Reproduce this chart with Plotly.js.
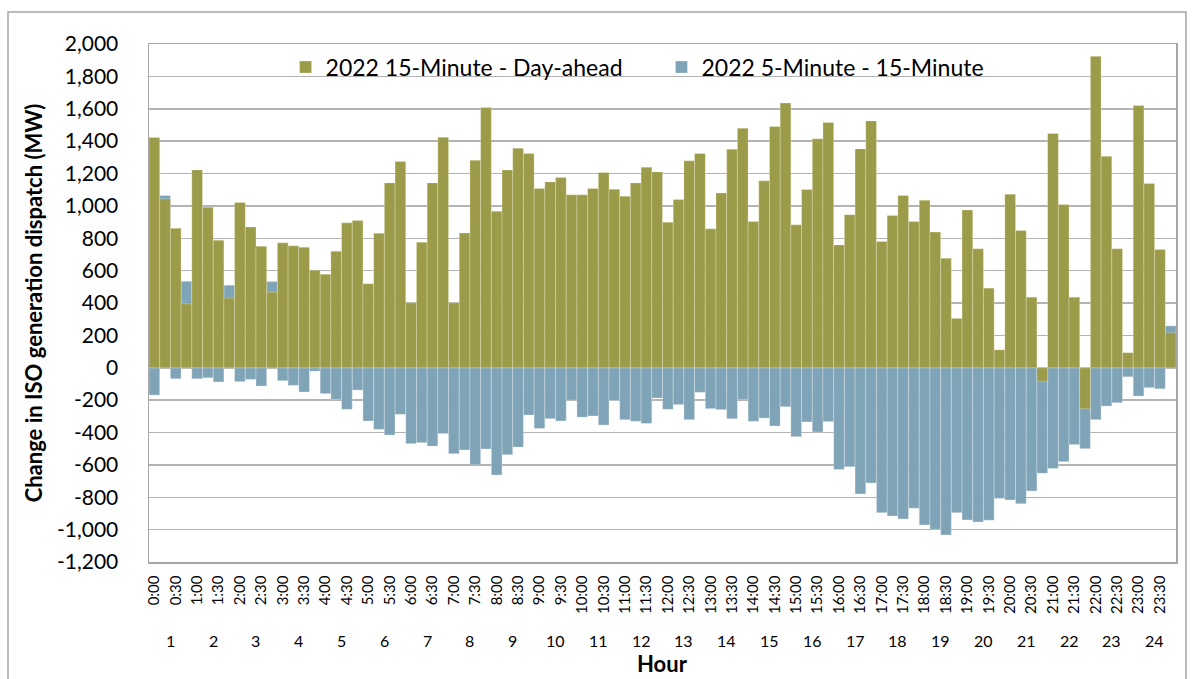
<!DOCTYPE html>
<html>
<head>
<meta charset="utf-8">
<script src="https://cdn.plot.ly/plotly-3.0.1.min.js"></script>
<style>
  html, body { margin: 0; padding: 0; background: #fff; }
  #chart { width: 1194px; height: 679px; }
</style>
</head>
<body>
<div id="chart"></div>
<script>
// 15-minute intervals, 0:00 .. 23:45
const intervalLabels = [];
for (let h = 0; h < 24; h++) {
  for (let m = 0; m < 60; m += 15) {
    intervalLabels.push(h + ":" + (m === 0 ? "00" : String(m)));
  }
}
const hourLabels = ["1","2","3","4","5","6","7","8","9","10","11","12",
                    "13","14","15","16","17","18","19","20","21","22","23","24"];

const yTickVals = [-1200, -1000, -800, -600, -400, -200, 0, 200, 400, 600, 800, 1000, 1200, 1400, 1600, 1800, 2000];
const yTickText = ["-1,200", "-1,000", "-800", "-600", "-400", "-200", "0", "200", "400", "600", "800",
                   "1,000", "1,200", "1,400", "1,600", "1,800", "2,000"];

const seriesNames = ["2022 15-Minute - Day-ahead", "2022 5-Minute - 15-Minute"];

// 2022 15-Minute - Day-ahead (MW)
const fmmMinusDa = [
  1422, 1043, 862, 395,   1222, 992, 788, 430,   1021, 870, 751, 467,
  772, 753, 745, 603,     578, 720, 895, 910,    519, 831, 1142, 1274,
  401, 776, 1142, 1424,   401, 833, 1282, 1607,  967, 1222, 1356, 1323,
  1107, 1148, 1175, 1068, 1068, 1107, 1206, 1103, 1060, 1142, 1239, 1210,
  899, 1039, 1278, 1323,  858, 1080, 1350, 1480, 903, 1155, 1490, 1636,
  883, 1101, 1414, 1515,  759, 945, 1352, 1525,  780, 941, 1064, 903,
  1035, 838, 677, 305,    975, 735, 492, 111,    1072, 848, 436, -84,
  1447, 1008, 436, -253,  1924, 1307, 735, 93,   1620, 1138, 731, 216
];

// 2022 5-Minute - 15-Minute (MW)
const rtdMinusFmm = [
  -169, 1064, -68, 535,   -68, -62, -88, 510,    -86, -72, -113, 533,
  -80, -109, -150, -21,   -160, -195, -257, -138, -329, -381, -416, -288,
  -469, -463, -484, -407, -531, -508, -599, -502, -663, -537, -490, -292,
  -375, -315, -329, -200, -305, -298, -354, -202, -321, -331, -344, -187,
  -257, -228, -321, -152, -253, -259, -315, -195, -331, -311, -360, -241,
  -426, -335, -397, -333, -628, -611, -780, -712, -895, -916, -934, -868,
  -971, -998, -1033, -895, -940, -953, -942, -807, -817, -840, -761, -652,
  -622, -580, -475, -500, -321, -237, -216, -56, -175, -123, -130, 259
];

const xIdx = intervalLabels.map((_, i) => i);
const tickVals = xIdx.filter(i => i % 2 === 0);
const tickText = tickVals.map(i => intervalLabels[i]);

const olive = "#9b9b4a";
const blue = "#80a4b7";
const gridC = "#b3b3b3";
const FONT = "Lato, 'Open Sans', sans-serif";

const traces = [
  {
    type: "bar", name: seriesNames[1], x: xIdx, y: rtdMinusFmm,
    text: intervalLabels, textposition: "none",
    hovertemplate: "%{text}: %{y:,}<extra></extra>",
    marker: { color: blue, line: { color: "rgba(255,255,255,0.45)", width: 0.6 } },
    legend: "legend2"
  },
  {
    type: "bar", name: seriesNames[0], x: xIdx, y: fmmMinusDa,
    text: intervalLabels, textposition: "none",
    hovertemplate: "%{text}: %{y:,}<extra></extra>",
    marker: { color: olive, line: { color: "rgba(255,255,230,0.45)", width: 0.6 } },
    legend: "legend"
  }
];

const annotations = hourLabels.map((h, k) => ({
  x: k * 4 + 1.5, y: -0.152, xref: "x", yref: "paper",
  text: h, showarrow: false, xanchor: "center", yanchor: "middle",
  font: { family: FONT, size: 16, color: "#000" }
}));
annotations.push({
  x: 0.5, y: -0.196, xref: "paper", yref: "paper",
  text: "<b>Hour</b>", showarrow: false, xanchor: "center", yanchor: "middle",
  font: { family: FONT, size: 22, color: "#000" }
});

const layout = {
  width: 1194, height: 679,
  paper_bgcolor: "#fff", plot_bgcolor: "#fff",
  margin: { l: 149, r: 18, t: 44, b: 117 },
  barmode: "overlay", bargap: 0,
  font: { family: FONT, color: "#000" },
  showlegend: true,
  legend: {
    x: 0.133, y: 0.997, xanchor: "left", yanchor: "top",
    orientation: "h", bgcolor: "rgba(255,255,255,0)",
    font: { family: FONT, size: 23, color: "#000" }
  },
  legend2: {
    x: 0.499, y: 0.997, xanchor: "left", yanchor: "top",
    orientation: "h", bgcolor: "rgba(255,255,255,0)",
    font: { family: FONT, size: 23, color: "#000" }
  },
  xaxis: {
    range: [-0.5, 95.5], tickmode: "array", tickvals: tickVals, ticktext: tickText,
    tickangle: -90, tickfont: { family: FONT, size: 15, color: "#000" },
    showgrid: false, zeroline: false, ticks: "", ticklabelstandoff: 6,
    showline: true, mirror: true, linecolor: "#a6a6a6", linewidth: 1.5,
    automargin: false
  },
  yaxis: {
    range: [-1200, 2000], tickmode: "array", tickvals: yTickVals, ticktext: yTickText,
    tickfont: { family: FONT, size: 21, color: "#000" },
    showgrid: true, gridcolor: gridC, gridwidth: 1.5,
    zeroline: false, ticks: "", ticklabelstandoff: 25,
    showline: true, mirror: true, linecolor: "#a6a6a6", linewidth: 1.5,
    title: { text: "<b>Change in ISO generation dispatch (MW)</b>", font: { family: FONT, size: 22, color: "#000" }, standoff: 8 },
    automargin: false
  },
  annotations: annotations,
  shapes: [{
    type: "rect", xref: "paper", yref: "paper",
    x0: -0.1373, x1: 1.0097, y0: -0.25, y1: 1.0618,
    line: { color: "#a6a6a6", width: 1.5 }, fillcolor: "rgba(0,0,0,0)", layer: "below"
  }]
};

Plotly.newPlot("chart", traces, layout, { displayModeBar: false, staticPlot: true });
</script>
</body>
</html>
